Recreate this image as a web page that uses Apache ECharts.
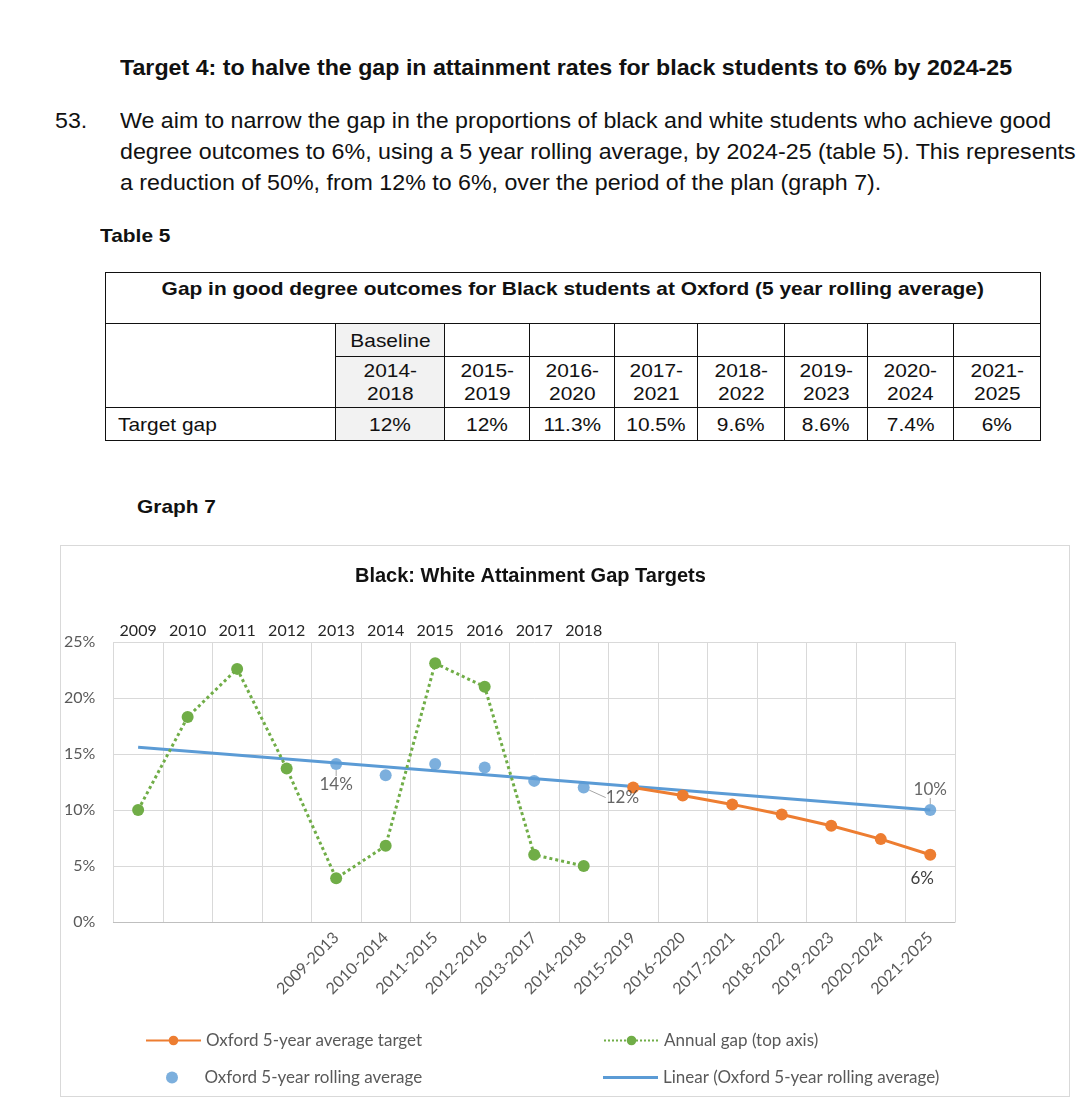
<!DOCTYPE html>
<html>
<head>
<meta charset="utf-8">
<script src="https://cdn.jsdelivr.net/npm/echarts@6/dist/echarts.min.js"></script>
<style>
  body { margin: 0; background: #fff; font-family: "Liberation Sans", Arial, sans-serif; color: #111; }
  #page { position: relative; width: 1080px; height: 1118px; overflow: hidden; }
  .t { position: absolute; white-space: nowrap; font-size: 22px; line-height: 24px; transform: scaleX(1.055); transform-origin: left center; }
  .b { font-weight: bold; }
  .lbl { font-size: 19px; transform: scaleX(1.1); }
  #tbl { position: absolute; left: 105px; top: 272px; border-collapse: collapse; font-size: 19px; table-layout: fixed; }
  #tbl td { border: 1.5px solid #111; padding: 0; text-align: center; line-height: 23px; }
  #tbl td.g { background: #f2f2f2; }
  .sx { display: inline-block; transform: scaleX(1.1); }
  #chart { position: absolute; left: 60px; top: 545px; width: 1010px; height: 552px; border: 1px solid #d9d9d9; box-sizing: border-box; }
</style>
</head>
<body>
<div id="page">
  <div class="t b" style="left:120px;top:56px;">Target 4: to halve the gap in attainment rates for black students to 6% by 2024-25</div>
  <div class="t" style="left:55px;top:109px;">53.</div>
  <div class="t" style="left:120px;top:109px;">We aim to narrow the gap in the proportions of black and white students who achieve good</div>
  <div class="t" style="left:120px;top:140px;">degree outcomes to 6%, using a 5 year rolling average, by 2024-25 (table 5). This represents</div>
  <div class="t" style="left:120px;top:171px;">a reduction of 50%, from 12% to 6%, over the period of the plan (graph 7).</div>
  <div class="t b lbl" style="left:100px;top:224px;">Table 5</div>

  <table id="tbl">
    <colgroup>
      <col style="width:230px"><col style="width:109px"><col style="width:85px"><col style="width:85px">
      <col style="width:83px"><col style="width:87px"><col style="width:83px"><col style="width:86px"><col style="width:87px">
    </colgroup>
    <tr style="height:51px"><td colspan="9" class="b" style="vertical-align:top;padding-top:4px;"><span class="sx" id="tblTitle"></span></td></tr>
    <tr style="height:33px"><td rowspan="2"></td><td class="g"><span class="sx">Baseline</span></td><td></td><td></td><td></td><td></td><td></td><td></td><td></td></tr>
    <tr id="periodRow" style="height:51px"></tr>
    <tr id="gapRow" style="height:33px"></tr>
  </table>

  <div class="t b lbl" style="left:137px;top:495px;">Graph 7</div>
  <div id="chart"></div>
</div>

<script>
  // table 5
  const tableTitle = "Gap in good degree outcomes for Black students at Oxford (5 year rolling average)";
  const tablePeriods = ["2014-2018", "2015-2019", "2016-2020", "2017-2021", "2018-2022", "2019-2023", "2020-2024", "2021-2025"];
  const tableGaps = ["12%", "12%", "11.3%", "10.5%", "9.6%", "8.6%", "7.4%", "6%"];

  // graph 7
  const rollingPeriods = ["", "", "", "", "2009-2013", "2010-2014", "2011-2015", "2012-2016", "2013-2017",
    "2014-2018", "2015-2019", "2016-2020", "2017-2021", "2018-2022", "2019-2023", "2020-2024", "2021-2025"];
  const years = ["2009", "2010", "2011", "2012", "2013", "2014", "2015", "2016", "2017", "2018"];
  const annualGap = [10.0, 18.3, 22.6, 13.7, 3.9, 6.8, 23.1, 21.0, 6.0, 5.0];
  const rollingAvg = [null, null, null, null, 14.1, 13.1, 14.1, 13.8, 12.6, 12.0,
    null, null, null, null, null, null, 10.0];
  const targetAvg = [null, null, null, null, null, null, null, null, null, null,
    12.0, 11.3, 10.5, 9.6, 8.6, 7.4, 6.0];
  const trendLine = [[0, 15.6], [16, 10.0]];
  const labelled = { 4: "bottom", 9: "right", 16: "top" };

  document.getElementById("tblTitle").textContent = tableTitle;
  const periodRow = document.getElementById("periodRow");
  tablePeriods.forEach((p, i) => {
    const td = document.createElement("td");
    if (i === 0) td.className = "g";
    const parts = p.split("-");
    td.innerHTML = '<span class="sx">' + parts[0] + "-<br>" + parts[1] + "</span>";
    periodRow.appendChild(td);
  });
  const gapRow = document.getElementById("gapRow");
  const first = document.createElement("td");
  first.innerHTML = '<span class="sx" style="transform-origin:left center">Target gap</span>';
  first.style.textAlign = "left";
  first.style.paddingLeft = "12px";
  gapRow.appendChild(first);
  tableGaps.forEach((g, i) => {
    const td = document.createElement("td");
    if (i === 0) td.className = "g";
    td.innerHTML = '<span class="sx">' + g + "</span>";
    gapRow.appendChild(td);
  });

  const BLUE = "#5b9bd5", ORANGE = "#ed7d31", GREEN = "#70ad47";
  const chartFont = "Lato, 'Open Sans', sans-serif";

  let myChart = echarts.init(document.getElementById("chart"));
  const legendBase = {
    padding: 0,
    itemWidth: 55,
    itemHeight: 12,
    textStyle: { fontSize: 17, color: "#595959", fontFamily: chartFont },
  };
  let option = {
    animation: false,
    textStyle: { fontFamily: chartFont },
    title: {
      text: "Black: White Attainment Gap Targets",
      left: 289,
      top: 15,
      textStyle: { fontFamily: "'Liberation Sans', Arial, sans-serif", fontSize: 20, fontWeight: "bold", color: "#111" },
    },
    grid: { left: 52, top: 96, width: 842, height: 280 },
    xAxis: [
      {
        type: "category",
        data: rollingPeriods,
        position: "bottom",
        axisLine: { lineStyle: { color: "#bfbfbf" } },
        axisTick: { show: false },
        splitLine: { show: true, interval: 0, lineStyle: { color: "#d9d9d9" } },
        axisLabel: { interval: 0, rotate: 45, margin: 13, fontSize: 16, color: "#595959", fontFamily: chartFont },
      },
      {
        type: "category",
        data: years.concat(new Array(rollingPeriods.length - years.length).fill("")),
        position: "top",
        axisLine: { show: false },
        axisTick: { show: false },
        axisLabel: { interval: 0, margin: 3, fontSize: 16, color: "#262626", fontFamily: chartFont },
      },
    ],
    yAxis: {
      type: "value",
      min: 0,
      max: 25,
      interval: 5,
      axisLine: { show: false },
      axisTick: { show: false },
      splitLine: { lineStyle: { color: "#d9d9d9" } },
      axisLabel: { formatter: "{value}%", margin: 18, fontSize: 16, color: "#595959", fontFamily: chartFont },
    },
    legend: [
      Object.assign({ data: ["Oxford 5-year average target"], left: 84, top: 486 }, legendBase),
      Object.assign({ data: ["Annual gap (top axis)"], left: 542, top: 486 }, legendBase),
      Object.assign({ data: ["Oxford 5-year rolling average"], left: 105, top: 523 }, legendBase),
      Object.assign({ data: ["Linear (Oxford 5-year rolling average)"], left: 542, top: 523 }, legendBase,
        { icon: "rect", itemHeight: 3 }),
    ],
    series: [
      {
        name: "Linear (Oxford 5-year rolling average)",
        type: "line",
        data: trendLine,
        symbol: "none",
        lineStyle: { color: BLUE, width: 3 },
        itemStyle: { color: BLUE },
        z: 2,
      },
      {
        name: "Annual gap (top axis)",
        type: "line",
        xAxisIndex: 1,
        data: annualGap,
        symbol: "circle",
        symbolSize: 12,
        lineStyle: { color: GREEN, width: 3, type: "dotted" },
        itemStyle: { color: GREEN },
        z: 3,
      },
      {
        name: "Oxford 5-year average target",
        type: "line",
        data: targetAvg,
        symbol: "circle",
        symbolSize: 12,
        lineStyle: { color: ORANGE, width: 3 },
        itemStyle: { color: ORANGE },
        label: {
          show: true,
          position: "bottom",
          distance: 9,
          offset: [-8, 0],
          fontSize: 17,
          color: "#404040",
          formatter: (p) => (p.dataIndex === targetAvg.length - 1 ? p.value + "%" : ""),
        },
        z: 4,
      },
      {
        name: "Oxford 5-year rolling average",
        type: "scatter",
        data: rollingAvg.map((v, i) => ({
          value: v,
          label: labelled[i] ? { show: true, position: labelled[i] } : { show: false },
        })),
        symbolSize: 12,
        itemStyle: { color: BLUE },
        label: {
          distance: 6,
          fontSize: 17,
          color: "#404040",
          formatter: (p) => Math.round(p.value) + "%",
        },
        labelLayout: (p) => (p.dataIndex === 9 ? { dx: 10, dy: 10 } : {}),
        labelLine: { show: true, lineStyle: { color: "#a6a6a6", width: 1 } },
        z: 5,
      },
    ],
  };
  myChart.setOption(option);
</script>
</body>
</html>
